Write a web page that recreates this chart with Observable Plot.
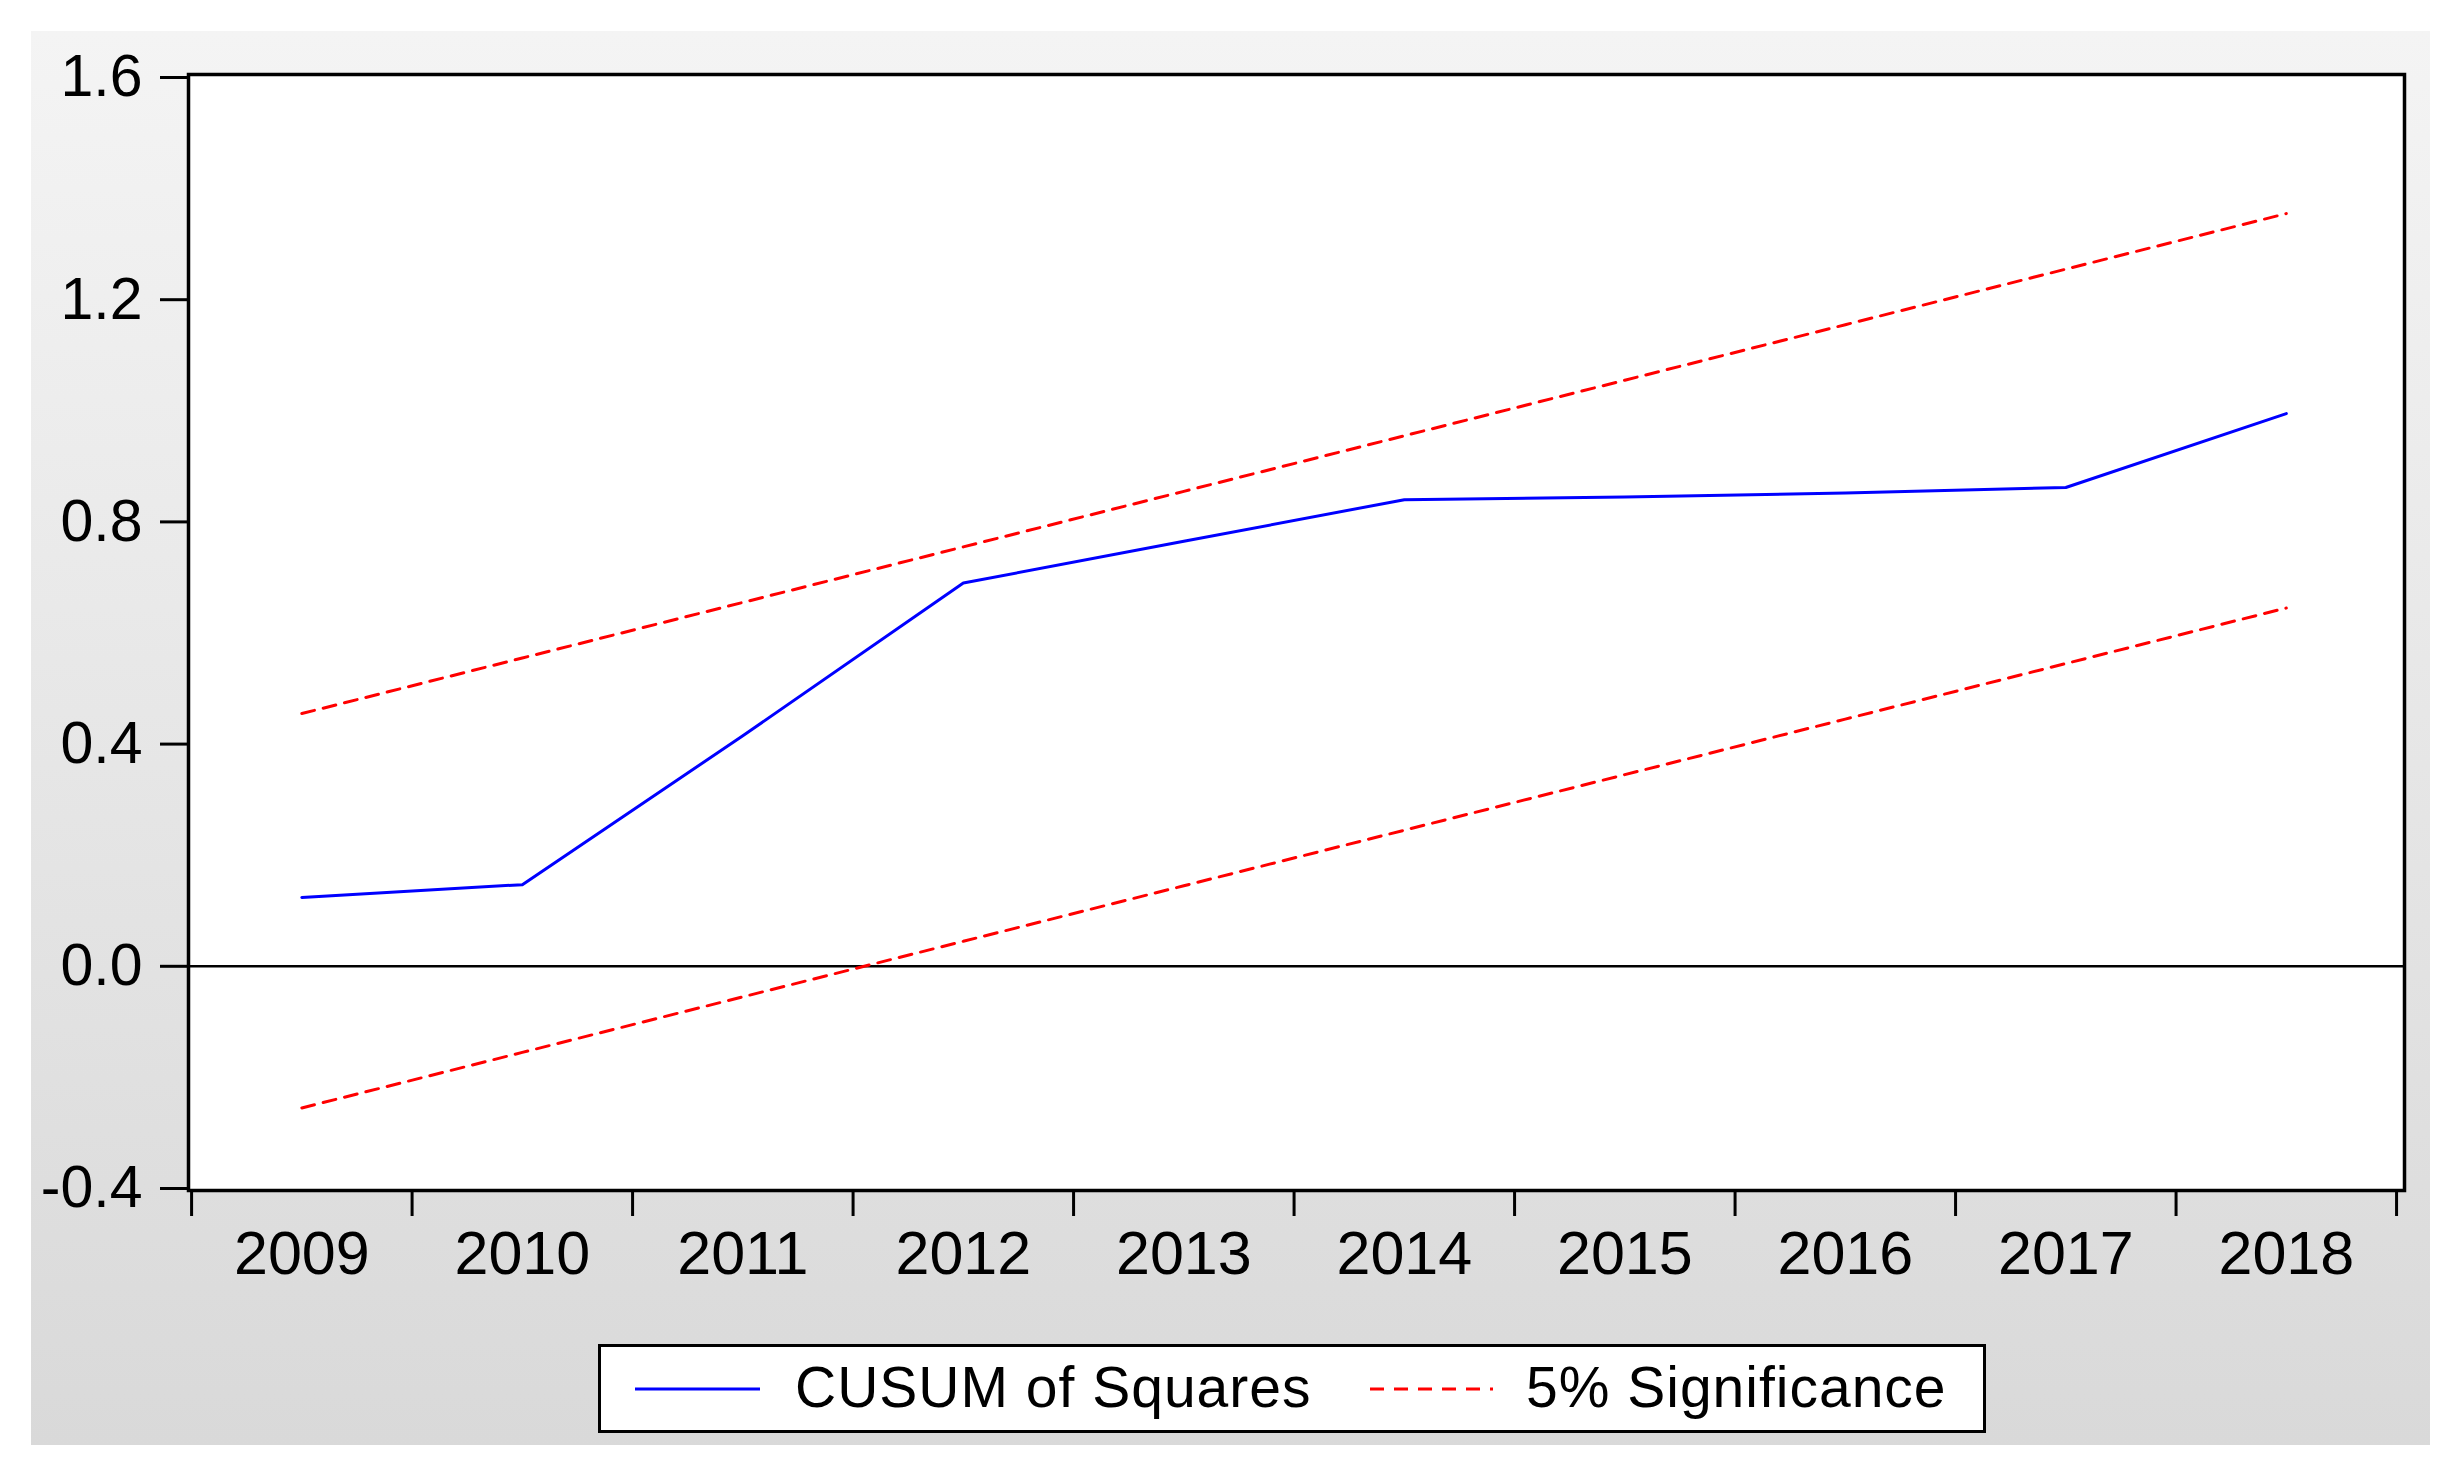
<!DOCTYPE html>
<html>
<head>
<meta charset="utf-8">
<script src="https://cdn.jsdelivr.net/npm/d3@7"></script>
<script src="https://cdn.jsdelivr.net/npm/@observablehq/plot@0.6"></script>
<style>
  html, body { margin: 0; padding: 0; background: #ffffff; }
  #page { position: relative; width: 2459px; height: 1470px; overflow: hidden; font-family: "Liberation Sans", Arial, sans-serif; }
  #panel { position: absolute; left: 31px; top: 31px; width: 2399px; height: 1414px;
           background: linear-gradient(to bottom, #f4f4f4, #d9d9d9); }
  #chart { position: absolute; left: 0; top: 0; }
  #legend { position: absolute; left: 598px; top: 1344px; width: 1388px; height: 89px; box-sizing: border-box;
            border: 3px solid #000; background: #fff; }
  #legend svg { position: absolute; left: 0; top: 0; }
  .ltext { position: absolute; top: 50%; transform: translateY(-52%); font-size: 57px; letter-spacing: 1px; color: #000; white-space: nowrap; line-height: 1; }
</style>
</head>
<body>
<div id="page">
  <div id="panel"></div>
  <div id="chart"></div>
  <div id="legend">
    <svg width="1388" height="89">
      <line x1="34" x2="159" y1="42" y2="42" stroke="#0000ff" stroke-width="3"></line>
      <line x1="769" x2="892" y1="42" y2="42" stroke="#ff0000" stroke-width="3" stroke-dasharray="14,10"></line>
    </svg>
    <div class="ltext" style="left:194px">CUSUM of Squares</div>
    <div class="ltext" style="left:925px">5% Significance</div>
  </div>
</div>
<script>
// Data
const years = [2009, 2010, 2011, 2012, 2013, 2014, 2015, 2016, 2017, 2018];
const cusumSq = [0.124, 0.147, 0.415, 0.69, 0.765, 0.84, 0.845, 0.852, 0.862, 0.995];
const upper5 = [0.455, 0.555, 0.655, 0.755, 0.855, 0.955, 1.055, 1.155, 1.255, 1.355];
const lower5 = [-0.255, -0.155, -0.055, 0.045, 0.145, 0.245, 0.345, 0.445, 0.545, 0.645];
const yTicks = [-0.4, 0.0, 0.4, 0.8, 1.2, 1.6];
const seriesNames = ["CUSUM of Squares", "5% Significance"];

const cusumData = years.map((y, i) => ({year: y, value: cusumSq[i]}));
const upperData = years.map((y, i) => ({year: y, value: upper5[i]}));
const lowerData = years.map((y, i) => ({year: y, value: lower5[i]}));
const boundaries = years.map(y => y - 0.5).concat([years[years.length - 1] + 0.5]);

const W = 2459, H = 1470;
const chart = Plot.plot({
  width: W,
  height: H,
  marginLeft: 188,
  marginRight: 55,
  marginTop: 74,
  marginBottom: 280,
  style: {background: "transparent", fontFamily: "'Liberation Sans', Arial, sans-serif", color: "#000"},
  x: {domain: [2008.486, 2018.536], label: null},
  y: {domain: [-0.4036, 1.6054], label: null},
  marks: [
    Plot.frame({fill: "#ffffff", stroke: null}),
    Plot.ruleY([0], {stroke: "#000", strokeWidth: 2.5}),
    Plot.line(upperData, {x: "year", y: "value", stroke: "#ff0000", strokeWidth: 3, strokeDasharray: "13,9"}),
    Plot.line(lowerData, {x: "year", y: "value", stroke: "#ff0000", strokeWidth: 3, strokeDasharray: "13,9"}),
    Plot.line(cusumData, {x: "year", y: "value", stroke: "#0000ff", strokeWidth: 3}),
    Plot.frame({stroke: "#000", strokeWidth: 3.5}),
    Plot.axisY(yTicks, {anchor: "left", tickSize: 28, tickPadding: 18, strokeWidth: 3,
      tickFormat: d => d.toFixed(1), fontSize: 59, fill: "#000"}),
    Plot.axisX(boundaries, {anchor: "bottom", tickSize: 26, strokeWidth: 3, tickFormat: () => ""}),
    Plot.axisX(years, {anchor: "bottom", tickSize: 0, tickPadding: 40, tickFormat: d => String(d), fontSize: 61, fill: "#000"})
  ]
});
document.getElementById("chart").appendChild(chart);
</script>
</body>
</html>
